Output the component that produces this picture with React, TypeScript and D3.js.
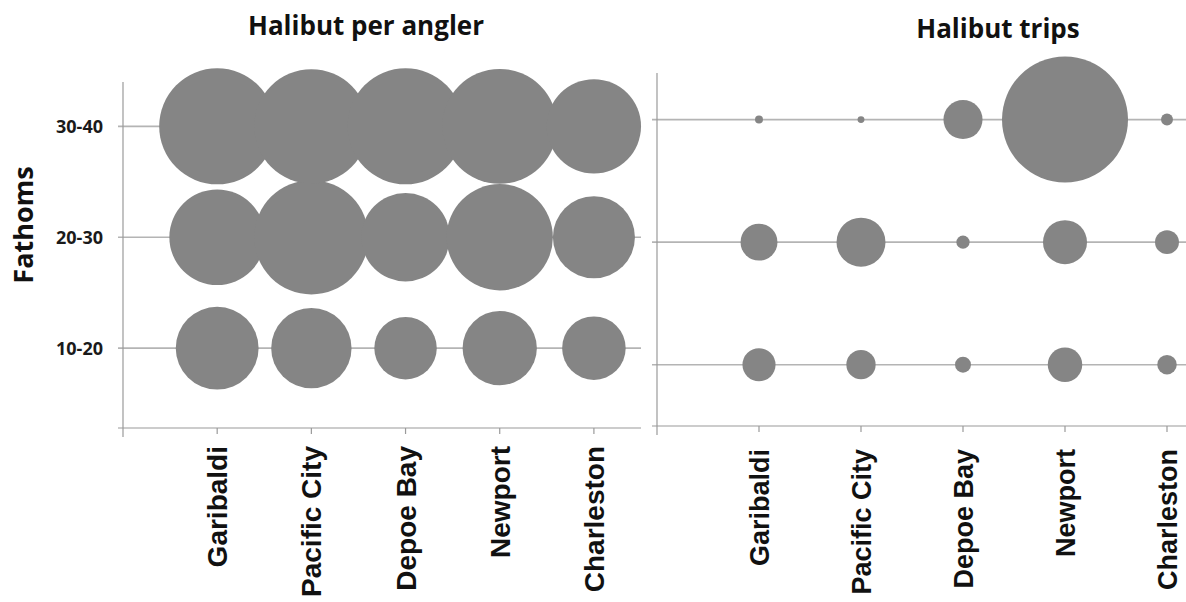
import { useEffect, useRef } from "react";
import * as d3 from "d3";

// categories
const ports = ["Garibaldi", "Pacific City", "Depoe Bay", "Newport", "Charleston"];
const depthBands = ["10-20", "20-30", "30-40"];

// Halibut per angler, one array per depth band (ports order)
const perAngler10to20 = [0.51, 0.48, 0.29, 0.41, 0.3];
const perAngler20to30 = [0.68, 0.97, 0.58, 0.84, 0.5];
const perAngler30to40 = [1.0, 0.97, 1.0, 0.98, 0.66];

// Halibut trips, one array per depth band (ports order)
const trips10to20 = [69, 54, 16, 75, 24];
const trips20to30 = [86, 151, 11, 122, 36];
const trips30to40 = [4, 3, 96, 1000, 9];

const W = 1186;
const H = 602;
const BUBBLE = "#858585";
const GRID = "#b4b4b4";
const AXIS = "#9a9a9a";

type Panel = {
  title: string;
  titleX: number;
  titleY: number;
  rows: number[][];
  xDomain: [number, number];
  xRange: [number, number];
  yDomain: [number, number];
  yRange: [number, number];
  maxR: number;
  labelTop: number;
  labelSize: number;
  yLabels: boolean;
};

const panels: Panel[] = [
  {
    title: "Halibut per angler",
    titleX: 366,
    titleY: 35,
    rows: [perAngler10to20, perAngler20to30, perAngler30to40],
    xDomain: [0, 5.5],
    xRange: [123, 641],
    yDomain: [0.28, 3.4],
    yRange: [428, 82],
    maxR: 58,
    labelTop: 446,
    labelSize: 28,
    yLabels: true,
  },
  {
    title: "Halibut trips",
    titleX: 998,
    titleY: 38,
    rows: [trips10to20, trips20to30, trips30to40],
    xDomain: [0, 5.2],
    xRange: [657, 1187.4],
    yDomain: [0.5, 3.38],
    yRange: [426, 73],
    maxR: 63,
    labelTop: 449,
    labelSize: 27,
    yLabels: false,
  },
];

export default function App() {
  const ref = useRef<SVGSVGElement>(null);

  useEffect(() => {
    document.body.style.margin = "0";
    if (!ref.current) return;
    const svg = d3.select(ref.current);
    svg.selectAll("*").remove();

    svg.append("rect").attr("width", W).attr("height", H).attr("fill", "#fff");

    panels.forEach((p) => {
      const x = d3.scaleLinear().domain(p.xDomain).range(p.xRange);
      const y = d3.scaleLinear().domain(p.yDomain).range(p.yRange);
      const maxVal = d3.max(p.rows.flat()) ?? 1;
      const r = d3.scaleSqrt().domain([0, maxVal]).range([0, p.maxR]);

      const x0 = x(0);
      const xEnd = Math.min(p.xRange[1], W);
      const yBottom = y(p.yDomain[0]);
      const yTop = y(p.yDomain[1]);
      const g = svg.append("g");

      // gridlines at each depth band (with short outward tick)
      g.selectAll(".grid")
        .data(depthBands)
        .join("line")
        .attr("x1", x0 - 5)
        .attr("x2", xEnd)
        .attr("y1", (_, i) => y(i + 1))
        .attr("y2", (_, i) => y(i + 1))
        .attr("stroke", GRID)
        .attr("stroke-width", 1.6);

      // axes
      g.append("line")
        .attr("x1", x0)
        .attr("x2", x0)
        .attr("y1", yTop)
        .attr("y2", yBottom + 9)
        .attr("stroke", AXIS)
        .attr("stroke-width", 1.2);
      g.append("line")
        .attr("x1", x0 - 5)
        .attr("x2", xEnd)
        .attr("y1", yBottom)
        .attr("y2", yBottom)
        .attr("stroke", AXIS)
        .attr("stroke-width", 1.2);
      g.selectAll(".xtick")
        .data(ports)
        .join("line")
        .attr("x1", (_, i) => x(i + 1))
        .attr("x2", (_, i) => x(i + 1))
        .attr("y1", yBottom)
        .attr("y2", yBottom + 6)
        .attr("stroke", AXIS)
        .attr("stroke-width", 1.2);

      // bubbles
      const bubbles = p.rows.flatMap((vals, row) =>
        vals.map((v, i) => ({ v, row, i }))
      );
      g.selectAll(".bubble")
        .data(bubbles)
        .join("circle")
        .attr("cx", (d) => x(d.i + 1))
        .attr("cy", (d) => y(d.row + 1))
        .attr("r", (d) => r(d.v))
        .attr("fill", BUBBLE);

      // category labels (rotated)
      g.selectAll(".xlabel")
        .data(ports)
        .join("text")
        .attr("transform", (_, i) => `translate(${x(i + 1)},${p.labelTop}) rotate(-90)`)
        .attr("text-anchor", "end")
        .attr("dy", "0.36em")
        .attr("font-family", "'Liberation Sans', Arial, sans-serif")
        .attr("font-weight", "bold")
        .attr("font-size", `${p.labelSize}px`)
        .attr("fill", "#111")
        .text((d) => d);

      // depth labels
      if (p.yLabels) {
        g.selectAll(".ylabel")
          .data(depthBands)
          .join("text")
          .attr("x", 103)
          .attr("y", (_, i) => y(i + 1))
          .attr("dy", "0.36em")
          .attr("text-anchor", "end")
          .attr("font-family", "'Open Sans', sans-serif")
          .attr("font-weight", "bold")
          .attr("font-size", "18px")
          .attr("fill", "#1a1a1a")
          .text((d) => d);
      }

      // title
      svg
        .append("text")
        .attr("x", p.titleX)
        .attr("y", p.titleY)
        .attr("text-anchor", "middle")
        .attr("font-family", "'Open Sans', sans-serif")
        .attr("font-weight", "bold")
        .attr("font-size", "26px")
        .attr("fill", "#111")
        .text(p.title);
    });

    svg
      .append("text")
      .attr("transform", "translate(23,225) rotate(-90)")
      .attr("text-anchor", "middle")
      .attr("dy", "0.36em")
      .attr("font-family", "'Open Sans', sans-serif")
      .attr("font-weight", "bold")
      .attr("font-size", "27px")
      .attr("fill", "#111")
      .text("Fathoms");
  }, []);

  return <svg ref={ref} width={W} height={H} style={{ display: "block" }} />;
}
